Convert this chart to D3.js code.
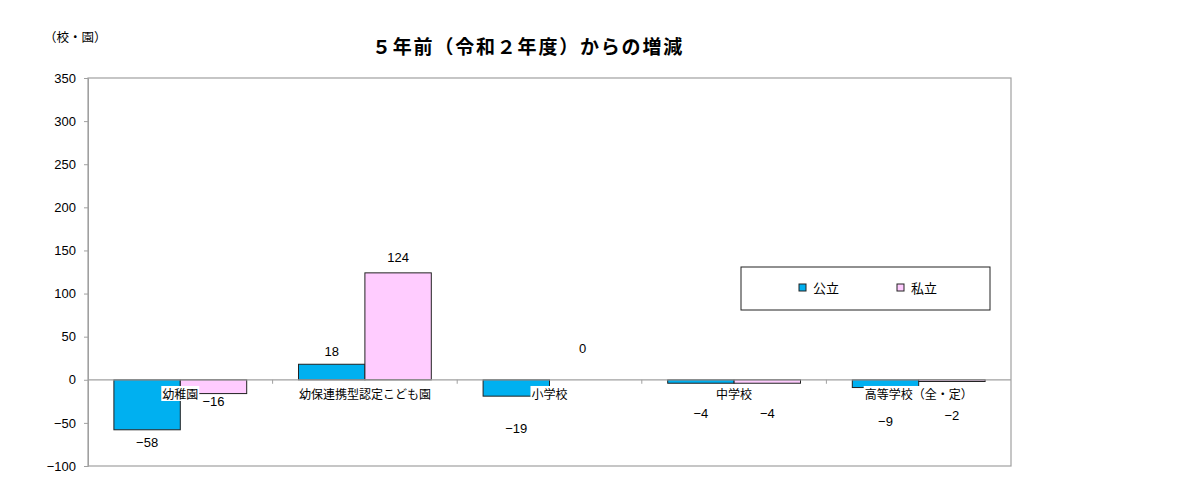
<!DOCTYPE html>
<html>
<head>
<meta charset="utf-8">
<script src="https://cdn.jsdelivr.net/npm/d3@7"></script>
<style>
  html, body { margin: 0; padding: 0; background: #fff; }
  svg { display: block; font-family: "Liberation Sans", "Noto Sans CJK JP", sans-serif; }
</style>
</head>
<body>
<div id="chart"></div>
<script>
// chart data
const categories = ['幼稚園', '幼保連携型認定こども園', '小学校', '中学校', '高等学校（全・定）'];
const seriesNames = ['公立', '私立'];
const publicValues = [-58, 18, -19, -4, -9];
const privateValues = [-16, 124, 0, -4, -2];
const yTicks = [-100, -50, 0, 50, 100, 150, 200, 250, 300, 350];

// label nudges (px) so the value text clears the category names
const publicLabelShift = [13, -13, 32, 30, 34];
const privateLabelShift = [8, -15, -31, 30, 34];

const width = 1200;
const height = 485;
const plot = { left: 88, right: 1011, top: 78, bottom: 466 };
const colors = ['#00B0F0', '#FFCCFF'];

const svg = d3.select('#chart')
  .append('svg')
  .attr('width', width)
  .attr('height', height);

const x0 = d3.scaleBand()
  .domain(categories)
  .range([plot.left, plot.right])
  .paddingInner(0)
  .paddingOuter(0);

const x1 = d3.scaleBand()
  .domain(seriesNames)
  .range([0, x0.bandwidth()])
  .paddingOuter(0.39)
  .paddingInner(0);

const y = d3.scaleLinear()
  .domain([-100, 350])
  .range([plot.bottom, plot.top]);

const fmt = (d) => d < 0 ? '\u2212' + Math.abs(d) : d;

// plot frame
svg.append('rect')
  .attr('x', plot.left)
  .attr('y', plot.top)
  .attr('width', plot.right - plot.left)
  .attr('height', plot.bottom - plot.top)
  .attr('fill', 'none')
  .attr('stroke', '#a0a0a0')
  .attr('stroke-width', 1.2);

// y axis
const yAxis = svg.append('g')
  .attr('transform', `translate(${plot.left},0)`)
  .call(d3.axisLeft(y).tickValues(yTicks).tickSize(4).tickPadding(8).tickFormat(fmt));
yAxis.select('.domain').attr('stroke', '#a0a0a0');
yAxis.selectAll('.tick line').attr('stroke', '#a0a0a0');
yAxis.selectAll('.tick text')
  .attr('font-size', 13)
  .attr('fill', '#000')
  .attr('font-family', '"Liberation Sans", sans-serif');

// bars
const rows = categories.map((c, i) => ({
  cat: c,
  vals: [
    { s: seriesNames[0], v: publicValues[i], shift: publicLabelShift[i], color: colors[0] },
    { s: seriesNames[1], v: privateValues[i], shift: privateLabelShift[i], color: colors[1] },
  ],
}));

const groups = svg.append('g')
  .selectAll('g')
  .data(rows)
  .join('g')
  .attr('transform', (d) => `translate(${x0(d.cat)},0)`);

groups.selectAll('rect')
  .data((d) => d.vals.filter((e) => e.v !== 0))
  .join('rect')
  .attr('x', (d) => x1(d.s))
  .attr('width', x1.bandwidth())
  .attr('y', (d) => y(Math.max(0, d.v)))
  .attr('height', (d) => Math.abs(y(d.v) - y(0)))
  .attr('fill', (d) => d.color)
  .attr('stroke', '#222')
  .attr('stroke-width', 1);

// zero line with category ticks
svg.append('line')
  .attr('x1', plot.left).attr('x2', plot.right)
  .attr('y1', y(0)).attr('y2', y(0))
  .attr('stroke', '#a0a0a0')
  .attr('stroke-width', 1.2);

svg.append('g')
  .selectAll('line')
  .data(categories.slice(1))
  .join('line')
  .attr('x1', (d) => x0(d)).attr('x2', (d) => x0(d))
  .attr('y1', y(0)).attr('y2', y(0) + 4)
  .attr('stroke', '#a0a0a0');

// value labels
groups.selectAll('text.val')
  .data((d) => d.vals)
  .join('text')
  .attr('class', 'val')
  .attr('x', (d) => x1(d.s) + x1.bandwidth() / 2)
  .attr('y', (d) => y(d.v) + d.shift)
  .attr('dy', '0.35em')
  .attr('text-anchor', 'middle')
  .attr('font-size', 13)
  .attr('font-family', '"Liberation Sans", sans-serif')
  .text((d) => fmt(d.v));

// category labels with white backing
const catLabels = svg.append('g')
  .selectAll('g')
  .data(categories)
  .join('g')
  .attr('transform', (d) => `translate(${x0(d) + x0.bandwidth() / 2},${y(0) + 15})`);

catLabels.append('text')
  .attr('text-anchor', 'middle')
  .attr('dy', '0.35em')
  .attr('font-size', 12)
  .attr('font-family', '"Noto Sans CJK JP", sans-serif')
  .text((d) => d)
  .each(function () {
    const bb = this.getBBox();
    d3.select(this.parentNode).insert('rect', 'text')
      .attr('x', bb.x - 1)
      .attr('y', bb.y + 1)
      .attr('width', bb.width + 2)
      .attr('height', bb.height - 2)
      .attr('fill', '#fff');
  });

// legend
const legend = svg.append('g').attr('transform', 'translate(741,267)');
legend.append('rect')
  .attr('width', 249)
  .attr('height', 43)
  .attr('fill', '#fff')
  .attr('stroke', '#222')
  .attr('stroke-width', 1);

const legendX = [58, 156];
const items = legend.selectAll('g')
  .data(seriesNames)
  .join('g')
  .attr('transform', (d, i) => `translate(${legendX[i]},21)`);
items.append('rect')
  .attr('x', 0).attr('y', -4)
  .attr('width', 7).attr('height', 7)
  .attr('fill', (d, i) => colors[i])
  .attr('stroke', '#222');
items.append('text')
  .attr('x', 14)
  .attr('dy', '0.35em')
  .attr('font-size', 13)
  .attr('font-family', '"Noto Sans CJK JP", sans-serif')
  .text((d) => d);

// title and unit
svg.append('text')
  .attr('x', 528)
  .attr('y', 47)
  .attr('dy', '0.35em')
  .attr('text-anchor', 'middle')
  .attr('font-size', 19)
  .attr('font-weight', 'bold')
  .attr('letter-spacing', 1.8)
  .attr('font-family', '"Noto Sans CJK JP", sans-serif')
  .text('５年前（令和２年度）からの増減');

svg.append('text')
  .attr('x', 44)
  .attr('y', 38)
  .attr('dy', '0.35em')
  .attr('font-size', 12.5)
  .attr('font-family', '"Noto Sans CJK JP", sans-serif')
  .text('（校・園）');
</script>
</body>
</html>
